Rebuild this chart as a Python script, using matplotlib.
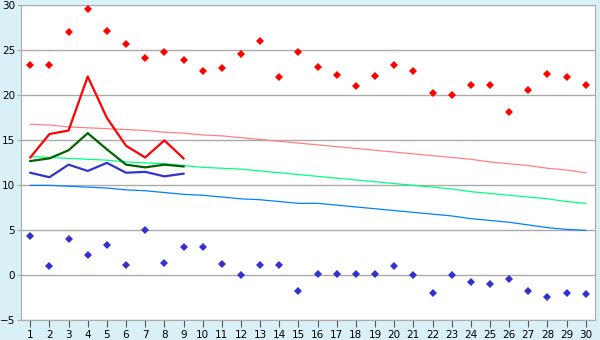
import numpy as np
import matplotlib
matplotlib.use('Agg')
import matplotlib.pyplot as plt

days = np.arange(1, 31)

# daily extremes (diamonds)
tmax = [23.4, 23.4, 27.0, 29.6, 27.2, 25.7, 24.2, 24.8, 23.9, 22.7,
        23.0, 24.6, 26.1, 22.0, 24.8, 23.2, 22.3, 21.0, 22.2, 23.4,
        22.7, 20.3, 20.0, 21.1, 21.1, 18.1, 20.6, 22.4, 22.0, 21.1]
tmin = [4.4, 1.0, 4.0, 2.3, 3.4, 1.1, 5.0, 1.4, 3.2, 3.2,
        1.3, 0.0, 1.1, 1.2, -1.8, 0.1, 0.1, 0.1, 0.1, 1.0,
        0.0, -2.0, 0.0, -0.7, -1.0, -0.4, -1.8, -2.4, -2.0, -2.1]

# first nine days lines
line_days = np.arange(1, 10)
line_max = [13.1, 15.7, 16.1, 22.1, 17.5, 14.4, 13.1, 15.0, 13.0]
line_mean = [12.7, 13.0, 13.9, 15.8, 14.0, 12.3, 12.0, 12.3, 12.1]
line_min = [11.4, 10.9, 12.3, 11.6, 12.5, 11.4, 11.5, 11.0, 11.3]

# normals
norm_max = [16.8, 16.7, 16.5, 16.4, 16.3, 16.2, 16.1, 15.9, 15.8, 15.6,
            15.5, 15.3, 15.1, 14.9, 14.7, 14.5, 14.3, 14.1, 13.9, 13.7,
            13.5, 13.3, 13.1, 12.9, 12.6, 12.4, 12.2, 11.9, 11.7, 11.4]
norm_mean = [13.2, 13.1, 13.0, 12.9, 12.8, 12.6, 12.5, 12.4, 12.2, 12.0,
             11.9, 11.8, 11.6, 11.4, 11.2, 11.0, 10.8, 10.6, 10.4, 10.2,
             10.0, 9.8, 9.6, 9.3, 9.1, 8.9, 8.7, 8.5, 8.2, 8.0]
norm_min = [10.0, 10.0, 9.9, 9.8, 9.7, 9.5, 9.4, 9.2, 9.0, 8.9,
            8.7, 8.5, 8.4, 8.2, 8.0, 8.0, 7.8, 7.6, 7.4, 7.2,
            7.0, 6.8, 6.6, 6.3, 6.1, 5.9, 5.6, 5.3, 5.1, 5.0]

fig = plt.figure(figsize=(6, 3.4), dpi=100, facecolor='#d9f0f6')
ax = fig.add_axes([0.0345, 0.058, 0.9577, 0.926])
ax.set_facecolor('white')

ax.plot(days, norm_max, color='#ff8080', lw=0.9)
ax.plot(days, norm_mean, color='#00ff80', lw=0.9)
ax.plot(days, norm_min, color='#0080ff', lw=0.9)

ax.plot(line_days, line_max, color='#ff0000', lw=1.6)
ax.plot(line_days, line_mean, color='#006400', lw=1.6)
ax.plot(line_days, line_min, color='#3333cc', lw=1.6)

ax.plot(days, tmax, 'D', color='#ff0000', ms=3.8, mew=0)
ax.plot(days, tmin, 'D', color='#3333cc', ms=3.8, mew=0)

ax.set_xlim(0.5, 30.5)
ax.set_ylim(-5, 30)
ax.set_xticks(days)
ax.set_yticks(np.arange(-5, 31, 5))
ax.yaxis.grid(True, color='#aaaaaa', lw=1)
ax.set_axisbelow(True)
for s in ax.spines.values():
    s.set_color('#aaaaaa')
ax.spines['top'].set_visible(False)
ax.tick_params(axis='x', length=5, color='#555555', labelsize=7.5, pad=2)
ax.tick_params(axis='y', length=3, color='#aaaaaa', labelsize=7.5, pad=1)

fig.savefig('out.png', dpi=100, facecolor=fig.get_facecolor())
